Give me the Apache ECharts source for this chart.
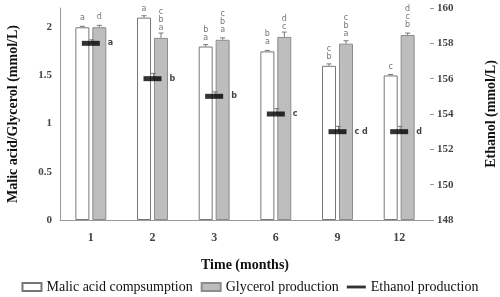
<!DOCTYPE html>
<html>
<head>
<meta charset="utf-8">
<script src="https://cdn.jsdelivr.net/npm/echarts@6/dist/echarts.min.js"></script>
<style>
  html, body { margin: 0; padding: 0; background: #fff; }
  #chart { width: 500px; height: 297px; }
</style>
</head>
<body>
<div id="chart"></div>
<script>
// data
const months = ['1', '2', '3', '6', '9', '12'];
const malicValues = [2.0, 2.1, 1.8, 1.75, 1.6, 1.5];
const malicErrors = [0.01, 0.02, 0.02, 0.01, 0.02, 0.01];
const malicLetters = [['a'], ['a'], ['b', 'a'], ['b', 'a'], ['c', 'b'], ['c']];
const glycerolValues = [2.0, 1.89, 1.87, 1.9, 1.83, 1.92];
const glycerolErrors = [0.02, 0.05, 0.02, 0.05, 0.03, 0.02];
const glycerolLetters = [['d'], ['c', 'b', 'a'], ['c', 'b', 'a'], ['d', 'c'], ['c', 'b', 'a'], ['d', 'c', 'b']];
const ethanolValues = [158.0, 156.0, 155.0, 154.0, 153.0, 153.0];
const ethanolErrors = [0.2, 0.3, 0.25, 0.3, 0.3, 0.3];
const ethanolLetters = ['a', 'b', 'b', 'c', 'c d', 'd'];

const serif = 'Liberation Serif';
const barW = 14;
const barShift = 8.5; // half of bar + half of gap

// error bar drawer, dx = horizontal shift from category centre
function errorBar(dx, color) {
  return function (params, api) {
    const base = api.coord([api.value(0), api.value(1)]);
    const top = api.coord([api.value(0), api.value(1) + api.value(2)]);
    const x = base[0] + dx;
    const style = { stroke: color, lineWidth: 1 };
    return {
      type: 'group',
      children: [
        { type: 'line', shape: { x1: x, y1: base[1], x2: x, y2: top[1] }, style: style },
        { type: 'line', shape: { x1: x - 2.5, y1: top[1], x2: x + 2.5, y2: top[1] }, style: style }
      ]
    };
  };
}

const chart = echarts.init(document.getElementById('chart'));
chart.setOption({
  animation: false,
  textStyle: { fontFamily: serif },
  grid: { left: 60, right: 70, top: 8, bottom: 77, outerBoundsMode: 'none' },
  legend: {
    bottom: -2,
    left: 'center',
    itemWidth: 19,
    itemHeight: 8,
    itemGap: 8,
    textStyle: { fontFamily: serif, fontSize: 14, color: '#111' },
    data: [
      { name: 'Malic acid compsumption', icon: 'rect' },
      { name: 'Glycerol production', icon: 'rect' },
      { name: 'Ethanol production', icon: 'path://M0,0H20V3H0Z' }
    ]
  },
  xAxis: {
    type: 'category',
    data: months,
    name: 'Time (months)',
    nameLocation: 'middle',
    nameGap: 38,
    nameTextStyle: { fontFamily: serif, fontWeight: 'bold', fontSize: 14, color: '#111' },
    axisLine: { lineStyle: { color: '#999' } },
    axisTick: { show: false },
    axisLabel: { fontFamily: serif, fontWeight: 'bold', fontSize: 12, color: '#444', margin: 12 }
  },
  yAxis: [
    {
      type: 'value',
      min: 0,
      max: 2.2,
      interval: 0.5,
      name: 'Malic acid/Glycerol (mmol/L)',
      nameLocation: 'middle',
      nameRotate: 90,
      nameGap: 40,
      nameTextStyle: { fontFamily: serif, fontWeight: 'bold', fontSize: 14, color: '#111' },
      axisLine: { show: true, lineStyle: { color: '#999' } },
      axisTick: { show: false },
      splitLine: { show: false },
      axisLabel: {
        fontFamily: serif, fontWeight: 'bold', fontSize: 11, color: '#444', margin: 8,
        formatter: v => (v > 2.1 ? '' : String(v))
      }
    },
    {
      type: 'value',
      min: 148,
      max: 160,
      interval: 2,
      position: 'right',
      name: 'Ethanol (mmol/L)',
      nameLocation: 'middle',
      nameRotate: 90,
      nameGap: 54,
      nameTextStyle: { fontFamily: serif, fontWeight: 'bold', fontSize: 14, color: '#111' },
      axisLine: { show: false },
      axisTick: { show: true, length: 4, lineStyle: { color: '#999' } },
      splitLine: { show: false },
      axisLabel: { fontFamily: serif, fontWeight: 'bold', fontSize: 11, color: '#444', margin: 7 }
    }
  ],
  series: [
    {
      name: 'Malic acid compsumption',
      type: 'bar',
      barWidth: barW,
      barGap: '21%',
      data: malicValues,
      itemStyle: { color: '#fff', borderColor: '#777', borderWidth: 1 },
      label: {
        show: true, position: 'top', distance: 5,
        fontFamily: 'DejaVu Sans', fontSize: 8, lineHeight: 8, color: '#777',
        formatter: p => malicLetters[p.dataIndex].join('\n')
      },
      z: 2
    },
    {
      name: 'Glycerol production',
      type: 'bar',
      barWidth: barW,
      data: glycerolValues,
      itemStyle: { color: '#bdbdbd', borderColor: '#8c8c8c', borderWidth: 1 },
      label: {
        show: true, position: 'top', distance: 6,
        fontFamily: 'DejaVu Sans', fontSize: 8, lineHeight: 8, color: '#777',
        formatter: p => glycerolLetters[p.dataIndex].join('\n')
      },
      z: 2
    },
    {
      name: 'Ethanol production',
      type: 'scatter',
      yAxisIndex: 1,
      symbol: 'rect',
      symbolSize: [18, 5],
      data: ethanolValues,
      itemStyle: { color: '#000' },
      label: {
        show: true, position: 'right', distance: 8,
        fontFamily: 'DejaVu Sans', fontWeight: 'bold', fontSize: 8, color: '#111',
        formatter: p => ethanolLetters[p.dataIndex]
      },
      z: 5
    },
    {
      type: 'custom',
      renderItem: errorBar(-barShift, '#777'),
      data: malicValues.map((v, i) => [i, v, malicErrors[i]]),
      z: 3
    },
    {
      type: 'custom',
      renderItem: errorBar(barShift, '#777'),
      data: glycerolValues.map((v, i) => [i, v, glycerolErrors[i]]),
      z: 3
    },
    {
      type: 'custom',
      yAxisIndex: 1,
      renderItem: errorBar(1, '#777'),
      data: ethanolValues.map((v, i) => [i, v, ethanolErrors[i]]),
      z: 4
    }
  ]
});
</script>
</body>
</html>
